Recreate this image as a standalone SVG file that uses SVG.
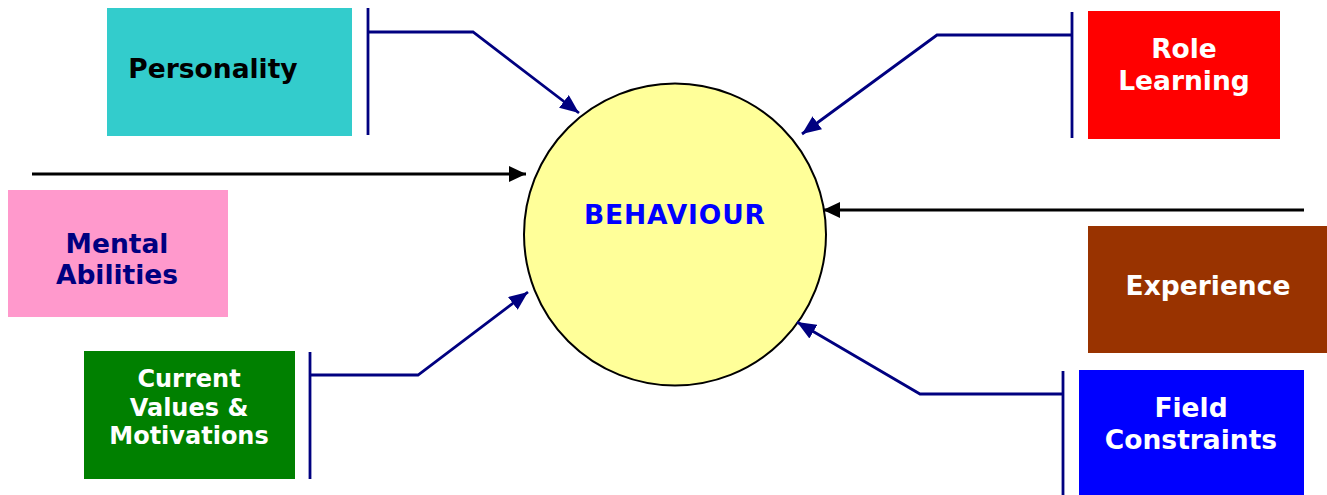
<svg xmlns="http://www.w3.org/2000/svg" width="1327" height="495" viewBox="0 0 1327 495">
<style>
  .lbl { font-family: "DejaVu Sans", Verdana, sans-serif; font-weight: bold; font-size: 26.5px; text-anchor: middle; }
  .navy { stroke: #000080; stroke-width: 2.8; fill: none; }
  .blk { stroke: #000000; stroke-width: 3; fill: none; }
</style>
<defs>
  <marker id="ahNavy" markerUnits="userSpaceOnUse" markerWidth="20" markerHeight="16" refX="19" refY="8" orient="auto">
    <path d="M0,0 L19,8 L0,16 z" fill="#000080"/>
  </marker>
  <marker id="ahBlk" markerUnits="userSpaceOnUse" markerWidth="17" markerHeight="16" refX="17" refY="8" orient="auto">
    <path d="M0,0 L17,8 L0,16 z" fill="#000000"/>
  </marker>
</defs>
<rect width="1327" height="495" fill="#ffffff"/>

<g id="behaviour">
  <circle cx="675" cy="234.5" r="151" fill="#FFFF99" stroke="#000000" stroke-width="2"/>
  <text class="lbl" x="674.5" y="224" fill="#0000FF" textLength="181" lengthAdjust="spacing">BEHAVIOUR</text>
</g>

<g id="personality">
  <rect x="107" y="8" width="245" height="128" fill="#33CCCC"/>
  <text class="lbl" x="213" y="77.5" fill="#000000">Personality</text>
</g>

<g id="mental-abilities">
  <rect x="8" y="190" width="220" height="127" fill="#FF99CC"/>
  <text class="lbl" x="117" y="253" fill="#000080">Mental</text>
  <text class="lbl" x="117" y="284" fill="#000080">Abilities</text>
</g>

<g id="current-values">
  <rect x="84" y="351" width="211" height="128" fill="#008000"/>
  <text class="lbl" x="189" y="386.7" fill="#FFFFFF" style="font-size:24px">Current</text>
  <text class="lbl" x="189" y="415.7" fill="#FFFFFF" style="font-size:24px">Values &amp;</text>
  <text class="lbl" x="189" y="444.3" fill="#FFFFFF" style="font-size:24px">Motivations</text>
</g>

<g id="role-learning">
  <rect x="1088" y="11" width="192" height="128" fill="#FF0000"/>
  <text class="lbl" x="1184" y="58.3" fill="#FFFFFF">Role</text>
  <text class="lbl" x="1184" y="90" fill="#FFFFFF">Learning</text>
</g>

<g id="experience">
  <rect x="1088" y="226" width="239" height="127" fill="#993300"/>
  <text class="lbl" x="1208" y="295" fill="#FFFFFF">Experience</text>
</g>

<g id="field-constraints">
  <rect x="1079" y="370" width="225" height="125" fill="#0000FF"/>
  <text class="lbl" x="1191" y="417.3" fill="#FFFFFF">Field</text>
  <text class="lbl" x="1191" y="449.3" fill="#FFFFFF">Constraints</text>
</g>

<g id="connectors">
  <path class="navy" d="M368,8 V135"/>
  <path class="navy" d="M368,32 H473 L579,113" marker-end="url(#ahNavy)"/>
  <path class="navy" d="M1072,12 V138"/>
  <path class="navy" d="M1072,35 H937 L802,134" marker-end="url(#ahNavy)"/>
  <path class="navy" d="M310,352 V479"/>
  <path class="navy" d="M310,375 H418 L528,292" marker-end="url(#ahNavy)"/>
  <path class="navy" d="M1063,371 V495"/>
  <path class="navy" d="M1063,394 H920 L797,322" marker-end="url(#ahNavy)"/>
  <path class="blk" d="M32,174 H526" marker-end="url(#ahBlk)"/>
  <path class="blk" d="M1304,210 H823" marker-end="url(#ahBlk)"/>
</g>
</svg>
